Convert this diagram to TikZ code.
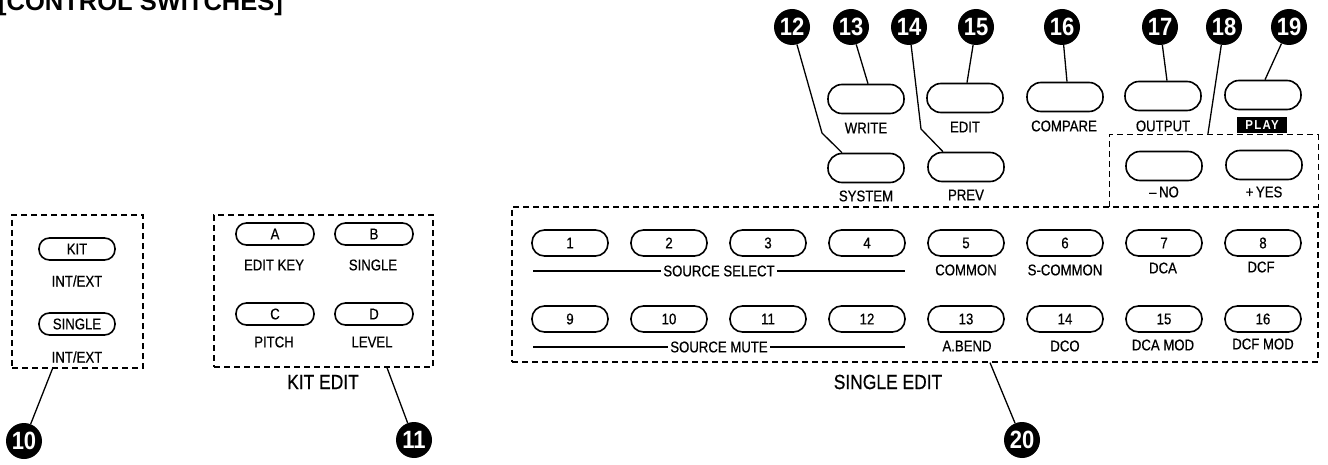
\documentclass[tikz,border=0pt]{standalone}
\usepackage{fontspec}
\setmainfont{Liberation Sans}
\newfontfamily\cnd{Liberation Sans}[FakeStretch=0.85,FakeBold=0.6]
\newfontfamily\cndb{Liberation Sans Bold}[FakeStretch=0.88]
\usetikzlibrary{calc}
\tikzset{
  lbl/.style={inner sep=0pt, font=\cnd\fontsize{15.5}{15.5}\selectfont},
  grp/.style={inner sep=0pt, font=\cnd\fontsize{20.5}{20.5}\selectfont},
  btnk/.style={draw, line width=1.6pt, rounded corners=10.5pt, minimum width=78pt,
    minimum height=22pt, inner sep=0pt, font=\cnd\fontsize{15.5}{15.5}\selectfont},
  btnr/.style={btnk, minimum width=76pt, minimum height=26pt, rounded corners=12.5pt},
  btnt/.style={btnk, minimum width=76pt, minimum height=29pt, rounded corners=14pt},
  callout/.style={circle, fill=black, text=white, minimum size=36pt, inner sep=0pt,
    font=\cndb\fontsize{25}{25}\selectfont},
  dbox/.style={draw, line width=1.3pt, dash pattern=on 6pt off 4pt, inner sep=0pt},
  gbox/.style={inner sep=0pt},
  leader/.style={line width=1.3pt},
  rule/.style={line width=1.2pt},
}
\begin{document}
\begin{tikzpicture}[x=1pt,y=-1pt]
\useasboundingbox[fill=white] (0,0) rectangle (1328,465);

% title (cut off at the top, as in the reference)
\node[anchor=base west, inner sep=0pt, font=\bfseries\fontsize{25.5}{25.5}\selectfont] (title) at (-2,11) {[CONTROL SWITCHES]};

% ---------- left group ----------
\node[dbox, minimum width=131pt, minimum height=153pt] (lbox) at (77.5,291.5) {};
\node[btnk, minimum width=76pt] (bkit) at (77,249) {KIT};
\node[lbl] (lkit) at (77,281) {INT/EXT};
\node[btnk, minimum width=76pt] (bsgl) at (77,324) {SINGLE};
\node[lbl] (lsgl) at (77,357) {INT/EXT};
\node[callout] (c10) at (24,441) {10};
\draw[leader] ($(lbox.south)+(-25,0)$) -- (c10);

% ---------- kit edit ----------
\node[dbox, minimum width=219pt, minimum height=152pt] (kbox) at (323.5,291) {};
\node[btnk] (ba) at (275,234) {A};
\node[lbl] (la) at (274,265) {EDIT KEY};
\node[btnk] (bb) at (374,234) {B};
\node[lbl] (lb) at (373,265) {SINGLE};
\node[btnk] (bc) at (275,314) {C};
\node[lbl] (lc) at (274,342) {PITCH};
\node[btnk] (bd) at (374,314) {D};
\node[lbl] (ld) at (372,342) {LEVEL};
\node[grp] (kitedit) at (323,382) {KIT EDIT};
\node[callout] (c11) at (414,440) {11};
\draw[leader] ($(kbox.south)+(63.5,0)$) -- (c11);

% ---------- top buttons ----------
\node[btnt] (bwrite) at (866,99) {};
\node[lbl] (lwrite) at (866,128) {WRITE};
\node[btnt] (bedit) at (965,98) {};
\node[lbl] (ledit) at (965,127) {EDIT};
\node[btnt] (bcomp) at (1065,97) {};
\node[lbl] (lcomp) at (1064,126) {COMPARE};
\node[btnt] (bout) at (1163,96) {};
\node[lbl] (lout) at (1163,126) {OUTPUT};
\node[btnt] (bplay) at (1263,95) {};
\node[fill=black, text=white, inner sep=0pt, minimum width=50pt, minimum height=16pt,
  font=\cndb\fontsize{13}{13}\selectfont\addfontfeature{LetterSpace=10}] (lplay) at (1262,125) {PLAY};

\node[btnt] (bsys) at (866,168) {};
\node[lbl] (lsys) at (866,196) {SYSTEM};
\node[btnt] (bprev) at (966,167) {};
\node[lbl] (lprev) at (966,195) {PREV};
\node[btnt] (bno) at (1164,166) {};
\node[lbl] (lno) at (1164,192) {\textendash\,NO};
\node[btnt] (byes) at (1264,165) {};
\node[lbl] (lyes) at (1264,192) {+\,YES};

% group 18 box (bottom edge shared with the single edit box)
\node[gbox, minimum width=208pt, minimum height=72pt] (b18) at (1214,171) {};
\draw[dbox] (b18.south west) -- (b18.north west) -- (b18.north east) -- (b18.south east);

% callouts on top
\node[callout] (c12) at (792,27) {12};
\node[callout] (c13) at (851,27) {13};
\node[callout] (c14) at (909,27) {14};
\node[callout] (c15) at (976,27) {15};
\node[callout] (c16) at (1062,27) {16};
\node[callout] (c17) at (1160,27) {17};
\node[callout] (c18) at (1224,27) {18};
\node[callout] (c19) at (1289,27) {19};

\coordinate (k12) at (822,133);
\coordinate (k14) at (921,129);
\draw[leader] (c12) -- (k12) -- ($(bsys.north)+(-24,0)$);
\draw[leader] (c13) -- ($(bwrite.north)+(2,0)$);
\draw[leader] (c14) -- (k14) -- ($(bprev.north)+(-23,0)$);
\draw[leader] (c15) -- ($(bedit.north)+(2,0)$);
\draw[leader] (c16) -- ($(bcomp.north)+(2,0)$);
\draw[leader] (c17) -- ($(bout.north)+(4,0)$);
\draw[leader] (c18) -- ($(b18.north west)+(98,0)$);
\draw[leader] (c19) -- ($(bplay.north)+(2,0)$);

% ---------- single edit ----------
\node[dbox, minimum width=806pt, minimum height=155pt] (sbox) at (915,284.5) {};
\foreach \n/\x in {1/570,2/669,3/768,4/867,5/966,6/1065,7/1164,8/1263}{
  \node[btnr] (r\n) at (\x,243) {\n};
}
\foreach \n/\x in {9/570,10/669,11/768,12/867,13/966,14/1065,15/1164,16/1263}{
  \node[btnr] (r\n) at (\x,319) {\n};
}
\coordinate (ssa) at (533,271);
\coordinate (ssb) at (905,271);
\draw[rule] (ssa) -- node[lbl, fill=white, inner xsep=2pt] (lss) {SOURCE SELECT} (ssb);
\coordinate (sma) at (533,347);
\coordinate (smb) at (905,347);
\draw[rule] (sma) -- node[lbl, fill=white, inner xsep=2pt] (lsm) {SOURCE MUTE} (smb);

\node[lbl] (l5) at (966,270) {COMMON};
\node[lbl] (l6) at (1065,270) {S-COMMON};
\node[lbl] (l7) at (1163,268) {DCA};
\node[lbl] (l8) at (1261,267) {DCF};
\node[lbl] (l13) at (967,346) {A.BEND};
\node[lbl] (l14) at (1065,346) {DCO};
\node[lbl] (l15) at (1163,345) {DCA MOD};
\node[lbl] (l16) at (1263,344) {DCF MOD};

\node[grp] (singleedit) at (888,382) {SINGLE EDIT};
\node[callout] (c20) at (1022,440) {20};
\draw[leader] ($(sbox.south)+(75,0)$) -- (c20);
\end{tikzpicture}
\end{document}
